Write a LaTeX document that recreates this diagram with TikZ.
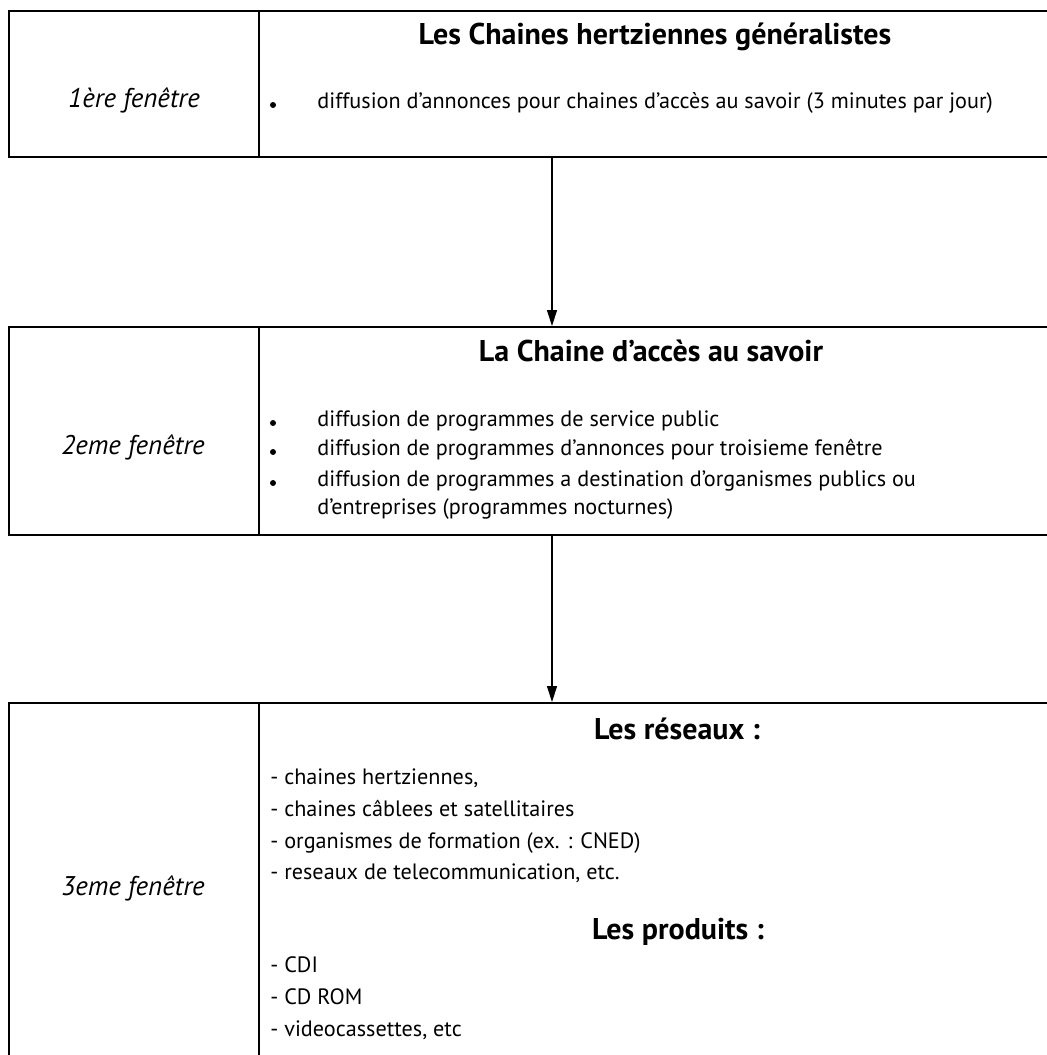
\documentclass[tikz,border=0pt]{standalone}
\usepackage{fontspec}
\setmainfont{PT Sans}
\usetikzlibrary{arrows.meta}

\begin{document}
\begin{tikzpicture}[x=0.5pt, y=-0.5pt,
    rowbox/.style={draw, line width=1pt, anchor=north west, inner sep=0pt, minimum width=536pt},
    window/.style={font=\itshape\fontsize{13.5}{15}\selectfont},
    heading/.style={font=\bfseries\fontsize{15}{17}\selectfont},
    item/.style={anchor=west, inner sep=0pt, text height=1.6ex, text depth=.4ex, font=\fontsize{11.1}{13}\selectfont},
    dot/.style={circle, fill, inner sep=0pt, minimum size=3pt},
    flow/.style={line width=0.6pt, -{Triangle[length=8pt,width=5pt]}}]
    \useasboundingbox (0,0) rectangle (1047,1055);
    \clip (0,0) rectangle (1047,1055);

    % the three windows
    \node [rowbox, minimum height=73pt] (row1) at (8,10) {};
    \node [rowbox, minimum height=104pt] (row2) at (8,326) {};
    \node [rowbox, minimum height=189pt] (row3) at (8,702) {};
    \coordinate (split) at (259,0);
    \coordinate (link) at (552,0);
    \foreach \r in {row1,row2,row3}
        \draw [line width=0.8pt] (\r.north -| split) -- (\r.south -| split);

    \draw [flow] (row1.south -| link) -- (row2.north -| link);
    \draw [flow] (row2.south -| link) -- (row3.north -| link);

    % first window
    \node [window] (w1) at (134,100) {1ère fenêtre};
    \node [heading] (h1) at (655,37) {Les Chaines hertziennes généralistes};
    \node [dot] (d1) at (273,105) {};
    \node [item] (i1) at (317,102) {diffusion d'annonces pour chaines d'accès au savoir (3 minutes par jour)};

    % second window
    \node [window] (w2) at (133,447) {2eme fenêtre};
    \node [heading] (h2) at (651,351) {La Chaine d'accès au savoir};
    \foreach \y/\txt [count=\k] in {420/diffusion de programmes de service public,
        449/diffusion de programmes d'annonces pour troisieme fenêtre,
        480/diffusion de programmes a destination d'organismes publics ou} {
        \node [dot] (d2\k) at (273,\y+3) {};
        \node [item] (i2\k) at (317,\y) {\txt};
    }
    \node [item] (i24) at (317,508) {d'entreprises (programmes nocturnes)};

    % third window
    \node [window] (w3) at (133,888) {3eme fenêtre};
    \node [heading] (h3) at (677,729) {Les réseaux :};
    \foreach \y/\txt [count=\k] in {778/- chaines hertziennes{,},
        810/- chaines câblees et satellitaires,
        842/- organismes de formation (ex. : CNED),
        873/- reseaux de telecommunication{,} etc.} {
        \node [item] (i3\k) at (270,\y) {\txt};
    }
    \node [heading] (h4) at (678,932) {Les produits :};
    \foreach \y/\txt [count=\k] in {966/- CDI, 998/- CD ROM, 1030/- videocassettes{,} etc} {
        \node [item] (i4\k) at (270,\y) {\txt};
    }
\end{tikzpicture}
\end{document}
